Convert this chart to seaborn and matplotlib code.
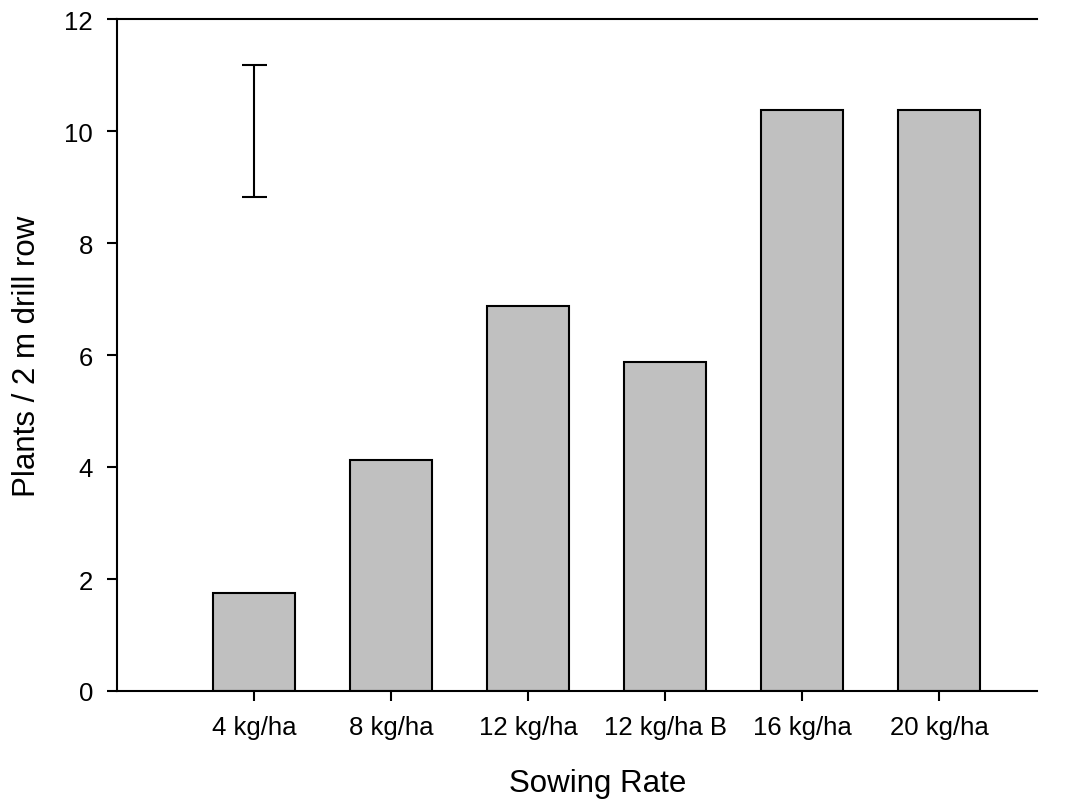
import matplotlib
matplotlib.use("Agg")
import matplotlib.pyplot as plt
import seaborn as sns
import pandas as pd

categories = ["4 kg/ha", "8 kg/ha", "12 kg/ha", "12 kg/ha B", "16 kg/ha", "20 kg/ha"]
plants = [1.75, 4.13, 6.88, 5.88, 10.38, 10.38]
lsd_center = 10.0
lsd_half = 1.17

sns.set_style("ticks")
plt.rcParams["font.family"] = ["Liberation Sans", "DejaVu Sans"]
plt.rcParams["text.color"] = "black"
plt.rcParams["axes.labelcolor"] = "black"
plt.rcParams["xtick.color"] = "black"
plt.rcParams["ytick.color"] = "black"

df = pd.DataFrame({"rate": categories, "plants": plants})

fig = plt.figure(figsize=(10.65, 8.03), dpi=100)
ax = fig.add_axes([117/1065, 1 - 692/803, (1037-117)/1065, (692-20)/803])

sns.barplot(data=df, x="rate", y="plants", order=categories, color="#c0c0c0",
            saturation=1, width=0.6, edgecolor="black", linewidth=1.5, ax=ax)

ax.errorbar([0], [lsd_center], yerr=[lsd_half], fmt="none", ecolor="black",
            elinewidth=1.5, capsize=9, capthick=1.5)

ax.set_xlim(-1, 5.715)
ax.set_ylim(0, 12)
ax.set_yticks([0, 2, 4, 6, 8, 10, 12])
ax.set_xlabel("Sowing Rate", fontsize=22.5)
ax.set_ylabel("Plants / 2 m drill row", fontsize=22.5)
ax.xaxis.set_label_coords(0.522, -0.1146)
ax.yaxis.set_label_coords(-0.082, 0.5)
ax.tick_params(axis="both", labelsize=18.5, length=7.2, width=1.5,
               color="black", labelcolor="black", direction="out")
ax.tick_params(axis="x", pad=10)
ax.tick_params(axis="y", pad=10)

for side in ["left", "bottom", "top"]:
    ax.spines[side].set_visible(True)
    ax.spines[side].set_linewidth(1.5)
    ax.spines[side].set_color("black")
ax.spines["right"].set_visible(False)

fig.savefig("out.png", dpi=100)
